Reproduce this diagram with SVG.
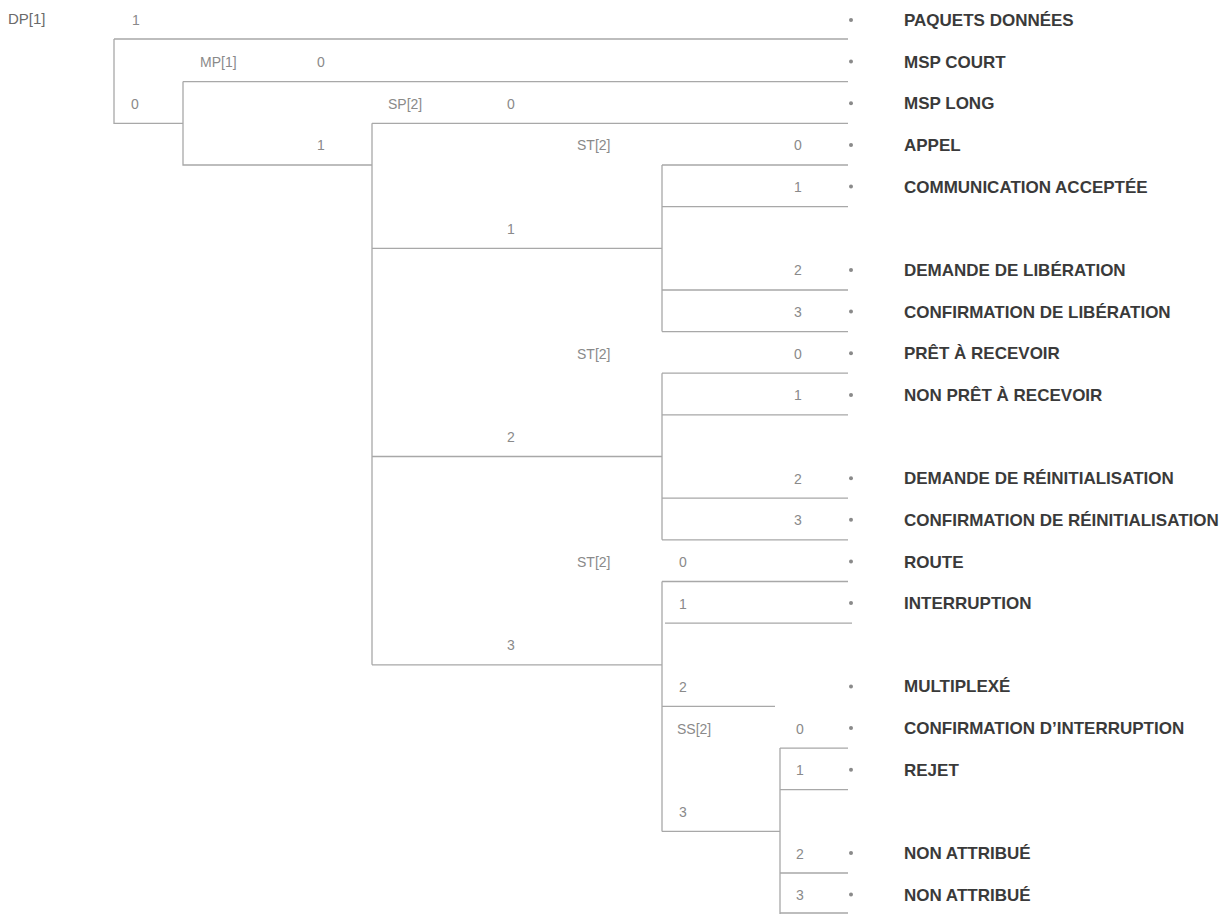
<svg xmlns="http://www.w3.org/2000/svg" width="1230" height="914" viewBox="0 0 1230 914">
<style>
.bg{fill:#ffffff}
.ln{fill:none;stroke:#a8a8a8;stroke-width:1.3}
.t{font-family:"Liberation Sans",Arial,sans-serif;font-size:14px;fill:#8a8a8a}
.d{font-family:"Liberation Sans",Arial,sans-serif;font-size:14px;fill:#8a8a8a;text-anchor:middle}
.root{font-family:"Liberation Sans",Arial,sans-serif;font-size:15px;fill:#6a6a6a}
.lb{font-family:"Liberation Sans",Arial,sans-serif;font-size:17px;font-weight:bold;fill:#3a3a3a}
.dot{fill:#8a8a8a}
</style>
<rect class="bg" x="0" y="0" width="1230" height="914"/>
<g id="connectors">
<path class="ln" d="M114,39 H848 M114,39 V123.3 H183"/>
<path class="ln" d="M183,81.6 H848 M183,81.6 V165 H372"/>
<path class="ln" d="M372,123.3 H848 M372,123.3 V664.8 M372,248.3 H662 M372,456.5 H662 M372,664.8 H662"/>
<path class="ln" d="M662,165 H848 M662,165 V331.6 M662,206.6 H848 M662,290 H848 M662,331.6 H848"/>
<path class="ln" d="M662,373.2 H848 M662,373.2 V539.8 M662,414.9 H848 M662,498.2 H848 M662,539.8 H848"/>
<path class="ln" d="M662,581.5 H848 M662,581.5 V831.4 M665,623.1 H852 M662,706.4 H775 M662,831.4 H780"/>
<path class="ln" d="M780,748.1 H848 M780,748.1 V914 M780,789.7 H848 M780,873 H848 M780,913 H848"/>
</g>
<g id="node-dp">
<text class="root" x="8" y="24">DP[1]</text>
<text class="d" x="136" y="25">1</text>
<text class="d" x="135" y="108.5">0</text>
</g>
<g id="node-mp">
<text class="t" x="200" y="66.5">MP[1]</text>
<text class="d" x="321" y="66.5">0</text>
<text class="d" x="321" y="150">1</text>
</g>
<g id="node-sp">
<text class="t" x="388" y="108.5">SP[2]</text>
<text class="d" x="511" y="108.5">0</text>
<text class="d" x="511" y="233.5">1</text>
<text class="d" x="511" y="441.5">2</text>
<text class="d" x="511" y="650">3</text>
</g>
<g id="node-st1">
<text class="t" x="577" y="150">ST[2]</text>
<text class="d" x="798" y="150">0</text>
<text class="d" x="798" y="191.5">1</text>
<text class="d" x="798" y="275">2</text>
<text class="d" x="798" y="316.5">3</text>
</g>
<g id="node-st2">
<text class="t" x="577" y="358.5">ST[2]</text>
<text class="d" x="798" y="358.5">0</text>
<text class="d" x="798" y="400">1</text>
<text class="d" x="798" y="483.5">2</text>
<text class="d" x="798" y="525">3</text>
</g>
<g id="node-st3">
<text class="t" x="577" y="566.5">ST[2]</text>
<text class="d" x="683" y="566.5">0</text>
<text class="d" x="683" y="608.5">1</text>
<text class="d" x="683" y="691.5">2</text>
<text class="d" x="683" y="816.5">3</text>
</g>
<g id="node-ss">
<text class="t" x="677" y="733.5">SS[2]</text>
<text class="d" x="800" y="733.5">0</text>
<text class="d" x="800" y="775">1</text>
<text class="d" x="800" y="858.5">2</text>
<text class="d" x="800" y="900">3</text>
</g>
<g id="labels">
<circle class="dot" cx="851" cy="20" r="2"/><text class="lb" x="904" y="26">PAQUETS DONNÉES</text>
<circle class="dot" cx="851" cy="61.6" r="2"/><text class="lb" x="904" y="67.6">MSP COURT</text>
<circle class="dot" cx="851" cy="103.3" r="2"/><text class="lb" x="904" y="109.3">MSP LONG</text>
<circle class="dot" cx="851" cy="145" r="2"/><text class="lb" x="904" y="151">APPEL</text>
<circle class="dot" cx="851" cy="186.6" r="2"/><text class="lb" x="904" y="192.6">COMMUNICATION ACCEPTÉE</text>
<circle class="dot" cx="851" cy="269.9" r="2"/><text class="lb" x="904" y="275.9">DEMANDE DE LIBÉRATION</text>
<circle class="dot" cx="851" cy="311.6" r="2"/><text class="lb" x="904" y="317.6">CONFIRMATION DE LIBÉRATION</text>
<circle class="dot" cx="851" cy="353.2" r="2"/><text class="lb" x="904" y="359.2">PRÊT À RECEVOIR</text>
<circle class="dot" cx="851" cy="394.9" r="2"/><text class="lb" x="904" y="400.9">NON PRÊT À RECEVOIR</text>
<circle class="dot" cx="851" cy="478.2" r="2"/><text class="lb" x="904" y="484.2">DEMANDE DE RÉINITIALISATION</text>
<circle class="dot" cx="851" cy="519.8" r="2"/><text class="lb" x="904" y="525.8">CONFIRMATION DE RÉINITIALISATION</text>
<circle class="dot" cx="851" cy="561.5" r="2"/><text class="lb" x="904" y="567.5">ROUTE</text>
<circle class="dot" cx="851" cy="603.1" r="2"/><text class="lb" x="904" y="609.1">INTERRUPTION</text>
<circle class="dot" cx="851" cy="686.4" r="2"/><text class="lb" x="904" y="692.4">MULTIPLEXÉ</text>
<circle class="dot" cx="851" cy="728" r="2"/><text class="lb" x="904" y="734">CONFIRMATION D’INTERRUPTION</text>
<circle class="dot" cx="851" cy="769.7" r="2"/><text class="lb" x="904" y="775.7">REJET</text>
<circle class="dot" cx="851" cy="853" r="2"/><text class="lb" x="904" y="859">NON ATTRIBUÉ</text>
<circle class="dot" cx="851" cy="894.6" r="2"/><text class="lb" x="904" y="900.6">NON ATTRIBUÉ</text>
</g>
</svg>
